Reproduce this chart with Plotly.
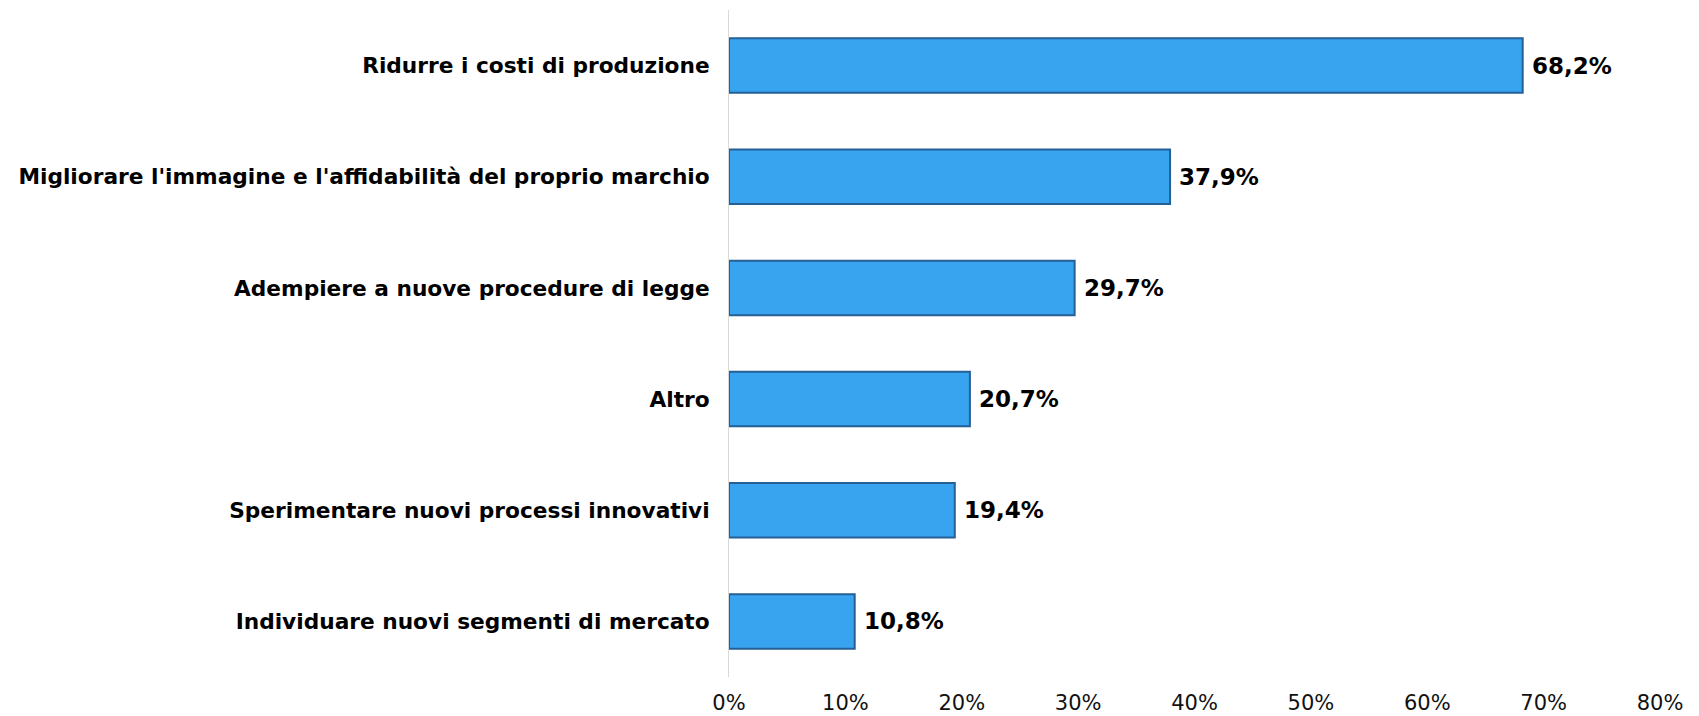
import plotly.graph_objects as go

categories = [
    "Ridurre i costi di produzione",
    "Migliorare l'immagine e l'affidabilità del proprio marchio",
    "Adempiere a nuove procedure di legge",
    "Altro",
    "Sperimentare nuovi processi innovativi",
    "Individuare nuovi segmenti di mercato",
]
values = [68.2, 37.9, 29.7, 20.7, 19.4, 10.8]
tick_values = [0, 10, 20, 30, 40, 50, 60, 70, 80]
tick_labels = [f"{t}%" for t in tick_values]

fig = go.Figure()
fig.add_trace(go.Bar(
    x=values, y=categories, orientation="h",
    marker=dict(color="#38A4F0", line=dict(color="#245F96", width=2)),
    width=0.49,
    hoverinfo="skip",
))

for v, c in zip(values, categories):
    fig.add_annotation(
        x=v, y=c, xref="x", yref="y",
        text=f"{v:.1f}%".replace(".", ","),
        showarrow=False, xanchor="left", yanchor="middle", xshift=7,
        font=dict(family="DejaVu Sans", size=23, color="black", weight="bold"),
    )

# page body has an 8px default margin, so the figure is reduced by that offset
fig.update_layout(
    width=1691, height=708,
    margin=dict(l=721, r=39, t=2, b=39, autoexpand=False),
    plot_bgcolor="white", paper_bgcolor="white",
    showlegend=False,
    bargap=0.51,
)
fig.update_xaxes(
    range=[0, 80], tickmode="array", tickvals=tick_values, ticktext=tick_labels,
    showgrid=False, zeroline=False, showline=False,
    ticks="outside", ticklen=7, tickcolor="rgba(0,0,0,0)",
    tickfont=dict(family="DejaVu Sans", size=21, color="#111111"),
)
fig.update_yaxes(
    autorange="reversed", showgrid=False, zeroline=False,
    showline=True, linecolor="#d9d9d9", linewidth=1,
    ticks="outside", ticklen=14, tickcolor="rgba(0,0,0,0)",
    tickfont=dict(family="DejaVu Sans", size=21.7, color="black", weight="bold"),
)

fig.write_html("out.html")
